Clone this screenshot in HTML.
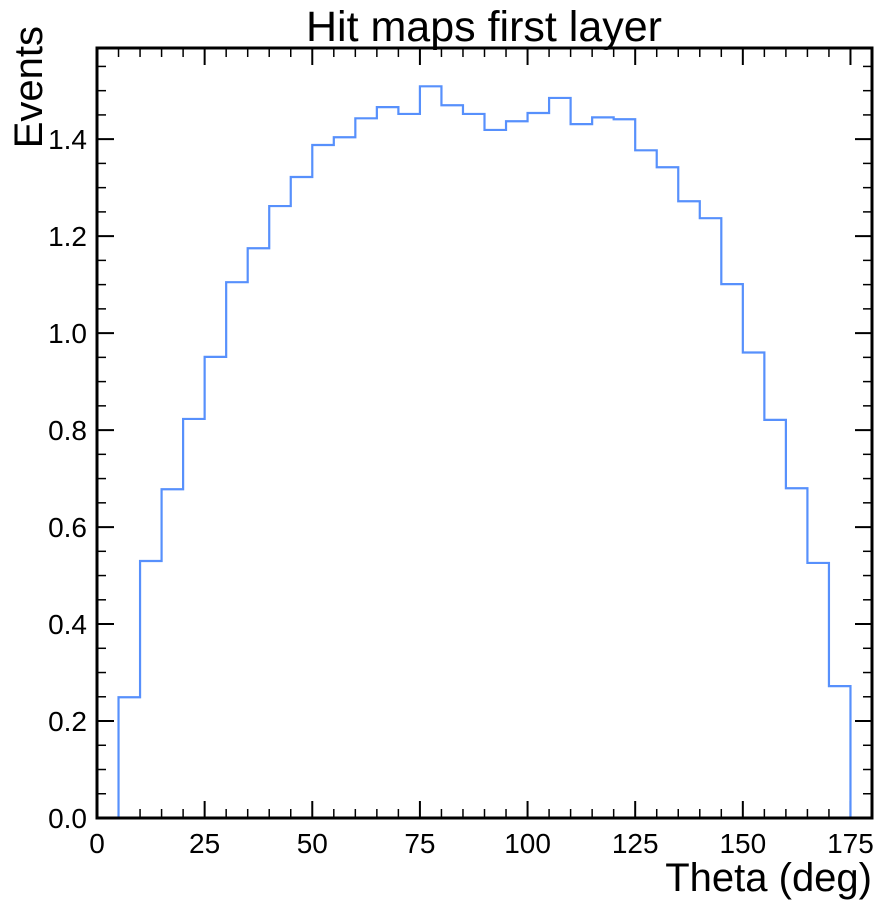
<!DOCTYPE html>
<html><head><meta charset="utf-8"><style>
body{margin:0;background:#fff}
svg text{font-family:"Liberation Sans",Arial,sans-serif;fill:#000}
</style></head><body>
<svg id="chart" width="885" height="906" xmlns="http://www.w3.org/2000/svg">
<text x="484" y="41" font-size="43" text-anchor="middle">Hit maps first layer</text>
<text x="872" y="891" font-size="40" text-anchor="end">Theta (deg)</text>
<text transform="translate(42,26) rotate(-90)" font-size="40" text-anchor="end">Events</text>
<g id="ticks"></g>
<g id="labels"></g>
<path id="hist" fill="none" stroke="#5790fc" stroke-width="2.2"/>
<rect x="97" y="48" width="775" height="770" fill="none" stroke="#000" stroke-width="3"/>
</svg>
<script>
const binEdgesStart = 5;
const binWidth = 5;
const counts = [0.249,0.530,0.678,0.823,0.951,1.105,1.175,1.262,1.322,1.388,1.404,1.443,1.466,1.452,1.509,1.470,1.452,1.419,1.437,1.454,1.485,1.431,1.445,1.441,1.377,1.342,1.272,1.237,1.101,0.960,0.821,0.680,0.526,0.272];
const xTicks = [0,25,50,75,100,125,150,175];
const yTicks = [0.0,0.2,0.4,0.6,0.8,1.0,1.2,1.4];
const X0=97,X1=872,Y0=818,Y1=48,XMAX=180,YMAX=1.588;
const sx=v=>X0+v/XMAX*(X1-X0);
const sy=v=>Y0-v/YMAX*(Y0-Y1);
let d=`M${sx(binEdgesStart)},${sy(0)}`;
counts.forEach((c,i)=>{const a=binEdgesStart+i*binWidth;d+=` L${sx(a)},${sy(c)} L${sx(a+binWidth)},${sy(c)}`;});
d+=` L${sx(binEdgesStart+counts.length*binWidth)},${sy(0)}`;
document.getElementById('hist').setAttribute('d',d);
const NS='http://www.w3.org/2000/svg';
const tg=document.getElementById('ticks'),lg=document.getElementById('labels');
function line(x1,y1,x2,y2,w){const l=document.createElementNS(NS,'line');


l.setAttribute('x1',x1);l.setAttribute('y1',y1);l.setAttribute('x2',x2);l.setAttribute('y2',y2);l.setAttribute('stroke','#000');l.setAttribute('stroke-width',w);tg.appendChild(l);}
for(let v=0;v<=XMAX;v+=5){const x=sx(v),maj=v%25===0,L=maj?17:9;line(x,Y0,x,Y0-L,maj?2:1.5);line(x,Y1,x,Y1+L,maj?2:1.5);}
for(let k=0;k*0.05<=YMAX;k++){const y=sy(k*0.05),maj=k%4===0,L=maj?17:9;line(X0,y,X0+L,y,maj?2:1.5);line(X1,y,X1-L,y,maj?2:1.5);}
xTicks.forEach(v=>{const t=document.createElementNS(NS,'text');


t.setAttribute('x',sx(v));t.setAttribute('y',Y0+35);t.setAttribute('font-size','28');t.setAttribute('text-anchor','middle');t.textContent=v;lg.appendChild(t);});
yTicks.forEach(v=>{const t=document.createElementNS(NS,'text');


t.setAttribute('x',X0-10);t.setAttribute('y',sy(v)+10);t.setAttribute('font-size','28');t.setAttribute('text-anchor','end');t.textContent=v.toFixed(1);lg.appendChild(t);});
</script>
</body></html>
